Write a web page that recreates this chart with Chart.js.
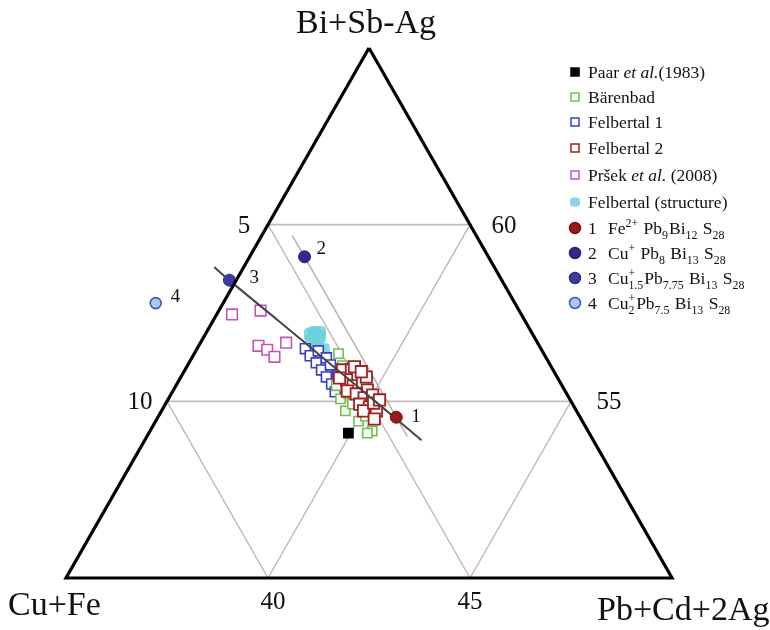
<!DOCTYPE html>
<html>
<head>
<meta charset="utf-8">
<script src="https://cdn.jsdelivr.net/npm/chart.js@4.4.0/dist/chart.umd.min.js"></script>
<style>
  body { margin: 0; background: #fff; }
  #wrap { width: 770px; height: 630px; }
</style>
</head>
<body>
<div id="wrap"><canvas id="grafico" width="770" height="630"></canvas></div>
<script>
// Sección del diagrama ternario, valores en % atómico
// cada punto: [Cu+Fe, Bi+Sb-Ag]; Pb+Cd+2Ag = 100 - los dos
const paar = [[5.96, 54.10]];
const barenbad = [
  [5.08, 56.35], [5.15, 56.01], [5.59, 55.44], [5.67, 55.07], [5.72, 54.73],
  [5.45, 54.92], [5.54, 54.44], [5.30, 54.58], [5.34, 54.16], [5.40, 55.21],
  [5.49, 54.10]
];
const felbertal1 = [
  [5.83, 56.49], [5.81, 56.29], [5.76, 56.09], [5.73, 55.89], [5.71, 55.69],
  [5.68, 55.49], [5.70, 55.27], [5.54, 56.43], [5.44, 56.23], [5.44, 56.03],
  [5.42, 55.72]
];
const felbertal2 = [
  [5.21, 55.89], [4.99, 55.89], [4.93, 55.72], [5.25, 55.61], [5.17, 55.44],
  [4.90, 55.52], [4.88, 55.32], [5.39, 55.29], [5.21, 55.21], [5.07, 55.10],
  [4.82, 55.18], [5.27, 54.92], [5.07, 54.84], [4.95, 54.73], [5.27, 54.73],
  [5.12, 54.50], [4.87, 55.98], [4.72, 55.69], [4.91, 54.95], [5.40, 55.66],
  [4.77, 55.84], [4.72, 55.04]
];
const prsek = [
  [7.16, 57.46], [6.40, 57.57], [6.95, 56.57], [6.79, 56.46], [6.71, 56.26],
  [6.22, 56.66]
];
const estructura = [
  [5.38, 56.95], [5.31, 56.83], [5.57, 56.72], [5.48, 56.60], [5.40, 56.46],
  [5.62, 56.40], [5.46, 56.23], [5.62, 56.12], [5.47, 55.98], [5.25, 56.95],
  [5.50, 56.90]
];
// miembros extremos 1-4
const miembros = [[4.55, 54.55], [4.55, 59.09], [6.74, 58.43], [8.89, 57.78]];
const miembrosNum = ["1", "2", "3", "4"];
// curva negra y recta Cu+Fe constante
const curva = [[6.93, 58.80], [6.75, 58.43], [6.09, 57.26], [5.40, 56.01], [4.79, 54.90], [4.25, 53.90]];
const rectaCu = [[4.55, 59.70], [4.55, 54.00]];

// límites de la sección y marcas
const cuMax = 15, biMin = 50, biMax = 65;
const ticksCu = [5, 10];
const ticksBi = [60, 55];
const ticksPb = [40, 45];

function toXY(p) {
  const a = (p[1] - biMin) / (biMax - biMin);
  const b = p[0] / cuMax;
  return { x: 1 - b - a / 2, y: a };
}

const serif = '"Liberation Serif", "DejaVu Serif", serif';

function pts(label, data, color, r, extra) {
  return Object.assign({
    label: label,
    data: data.map(toXY),
    showLine: false,
    pointStyle: "rect",
    pointRadius: r,
    pointHoverRadius: r,
    borderColor: color,
    backgroundColor: "#fff",
    borderWidth: 1.6
  }, extra || {});
}

function linea(data, color, w, order, extra) {
  return Object.assign({
    data: data.map(toXY),
    showLine: true,
    pointRadius: 0,
    borderColor: color,
    borderWidth: w,
    fill: false,
    order: order
  }, extra || {});
}

// segmentos de la rejilla
const rejilla = [];
ticksCu.forEach(c => rejilla.push(linea([[c, biMax - c], [c, biMin]], "#c9b3b3", 1.4, 9)));
ticksBi.forEach(b => rejilla.push(linea([[biMax - b, b], [0, b]], "#c2bcbc", 1.6, 9)));
ticksPb.forEach(p => rejilla.push(linea([[0, 100 - p], [100 - biMin - p, biMin]], "#c9b3b3", 1.4, 9)));

const triangulo = linea([[0, biMax], [cuMax, biMin], [0, biMin], [0, biMax]], "#000", 3.2, 0,
  { borderJoinStyle: "miter" });

const coloresMiembros = [
  { bg: "#9a1a1a", bd: "#7a1010" },
  { bg: "#35288a", bd: "#2a1f70" },
  { bg: "#3d3c9e", bd: "#2e2d80" },
  { bg: "#a6cdf0", bd: "#4057b0" }
];

const dsMiembros = miembros.map((m, i) => ({
  label: miembrosNum[i],
  data: [toXY(m)],
  showLine: false,
  pointStyle: "circle",
  pointRadius: i === 3 ? 5.5 : 6,
  backgroundColor: coloresMiembros[i].bg,
  borderColor: coloresMiembros[i].bd,
  borderWidth: i === 3 ? 1.6 : 1,
  order: 0
}));

const dsPaar = pts("Paar", paar, "#000", 6.5, { backgroundColor: "#000", order: 2 });
const dsBaren = pts("Bärenbad", barenbad, "#6cc24a", 6.5, { order: 3 });
const dsFel1 = pts("Felbertal 1", felbertal1, "#3b3fc4", 7, { order: 4 });
const dsFel2 = pts("Felbertal 2", felbertal2, "#a32020", 8, { borderWidth: 1.8, order: 2 });
const dsPrsek = pts("Pršek", prsek, "#c653b8", 7.5, { order: 3 });
const dsEstr = pts("Felbertal (structure)", estructura, "#6fd0dc", 7.5,
  { pointStyle: "rectRounded", backgroundColor: "rgba(110,208,222,0.85)", borderWidth: 0, order: 5 });

// leyenda: [dataset, textos]
const leyenda = [
  [dsPaar, ["Paar ", { it: "et al." }, "(1983)"]],
  [dsBaren, ["Bärenbad"]],
  [dsFel1, ["Felbertal 1"]],
  [dsFel2, ["Felbertal 2"]],
  [dsPrsek, ["Pršek ", { it: "et al." }, " (2008)"]],
  [dsEstr, ["Felbertal (structure)"]],
  [dsMiembros[0], ["1", { tab: 608 }, "Fe", { sup: "2+" }, " Pb", { sub: "9" }, "Bi", { sub: "12" }, " S", { sub: "28" }]],
  [dsMiembros[1], ["2", { tab: 608 }, "Cu", { sup: "+" }, " Pb", { sub: "8" }, " Bi", { sub: "13" }, " S", { sub: "28" }]],
  [dsMiembros[2], ["3", { tab: 608 }, "Cu", { sup: "+", sub: "1.5" }, "Pb", { sub: "7.75" }, " Bi", { sub: "13" }, " S", { sub: "28" }]],
  [dsMiembros[3], ["4", { tab: 608 }, "Cu", { sup: "+", sub: "2" }, "Pb", { sub: "7.5" }, " Bi", { sub: "13" }, " S", { sub: "28" }]]
];

function textoRuns(ctx, runs, x, y, size) {
  let cx = x;
  runs.forEach(r => {
    if (typeof r === "string") {
      ctx.font = size + "px " + serif;
      ctx.fillText(r, cx, y);
      cx += ctx.measureText(r).width;
    } else if (r.tab) {
      cx = r.tab;
    } else if (r.it) {
      ctx.font = "italic " + size + "px " + serif;
      ctx.fillText(r.it, cx, y);
      cx += ctx.measureText(r.it).width;
    } else {
      const s = size * 0.68;
      ctx.font = s + "px " + serif;
      let w = 0;
      if (r.sup) {
        ctx.fillText(r.sup, cx, y - size * 0.38);
        w = ctx.measureText(r.sup).width;
      }
      if (r.sub) {
        ctx.fillText(r.sub, cx, y + size * 0.28);
        w = Math.max(w, ctx.measureText(r.sub).width);
      }
      cx += w + 1;
    }
  });
}

function simbolo(ctx, ds, x, y) {
  ctx.save();
  ctx.fillStyle = ds.backgroundColor;
  ctx.strokeStyle = ds.borderColor;
  ctx.lineWidth = ds.borderWidth ? 1.5 : 0;
  ctx.beginPath();
  if (ds.pointStyle === "circle") {
    ctx.arc(x, y, 5.5, 0, Math.PI * 2);
  } else if (ds.pointStyle === "rectRounded") {
    ctx.roundRect(x - 5, y - 4.5, 10, 9, 3.5);
  } else {
    ctx.rect(x - 4, y - 4, 8, 8);
  }
  ctx.fill();
  if (ds.borderWidth) ctx.stroke();
  ctx.restore();
}

const textos = {
  id: "textos",
  afterDraw(chart) {
    const ctx = chart.ctx;
    const sx = chart.scales.x, sy = chart.scales.y;
    const px = p => { const q = toXY(p); return [sx.getPixelForValue(q.x), sy.getPixelForValue(q.y)]; };
    ctx.save();
    ctx.fillStyle = "#111";
    ctx.textBaseline = "alphabetic";

    // vértices
    ctx.font = "34px " + serif;
    ctx.textAlign = "center";
    let v = px([0, biMax]);
    ctx.fillText("Bi+Sb-Ag", v[0] - 3, v[1] - 15);
    ctx.textAlign = "left";
    v = px([cuMax, biMin]);
    ctx.fillText("Cu+Fe", v[0] - 58, v[1] + 37);
    v = px([0, biMin]);
    ctx.fillText("Pb+Cd+2Ag", v[0] - 75, v[1] + 42);

    // marcas
    ctx.font = "25px " + serif;
    ctx.textAlign = "center";
    ticksCu.forEach((c, i) => {
      const q = px([c, biMax - c]);
      ctx.fillText(String(c), q[0] - (i ? 27 : 24), q[1] + 8);
    });
    ticksBi.forEach((b, i) => {
      const q = px([0, b]);
      ctx.fillText(String(b), q[0] + (i ? 38 : 34), q[1] + 8);
    });
    ticksPb.forEach((p, i) => {
      const q = px([100 - biMin - p, biMin]);
      ctx.fillText(String(p), q[0] + (i ? 0 : 5), q[1] + 31);
    });

    // números de los miembros extremos
    ctx.font = "19px " + serif;
    ctx.textAlign = "left";
    const off = [[15, 5], [12, -3], [20, 3], [15, -1]];
    miembros.forEach((m, i) => {
      const q = px(m);
      ctx.fillText(miembrosNum[i], q[0] + off[i][0], q[1] + off[i][1]);
    });

    // leyenda
    const filas = [72, 97, 122, 148, 175, 202, 228, 253, 278, 303];
    leyenda.forEach((it, i) => {
      simbolo(ctx, it[0], 575, filas[i]);
      ctx.fillStyle = "#111";
      textoRuns(ctx, it[1], 588, filas[i] + 6, 17.5);
    });
    ctx.restore();
  }
};

const datasets = [triangulo, linea(curva, "#454545", 2, 1, { tension: 0.3 })]
  .concat(dsMiembros, [dsFel2, dsPaar, dsBaren, dsPrsek, dsFel1, dsEstr,
    linea(rectaCu, "#b9b0b0", 1.5, 8)], rejilla);

const ctx = document.getElementById("grafico").getContext("2d");
const chart = new Chart(ctx, {
  type: "scatter",
  data: { datasets: datasets },
  options: {
    responsive: false,
    animation: false,
    events: [],
    layout: { padding: 0, autoPadding: false },
    plugins: { legend: { display: false }, tooltip: { enabled: false } },
    scales: {
      x: { type: "linear", display: false, min: -66 / 606, max: 704 / 606 },
      y: { type: "linear", display: false, min: -52 / 530, max: 578 / 530 }
    }
  },
  plugins: [textos]
});
</script>
</body>
</html>
